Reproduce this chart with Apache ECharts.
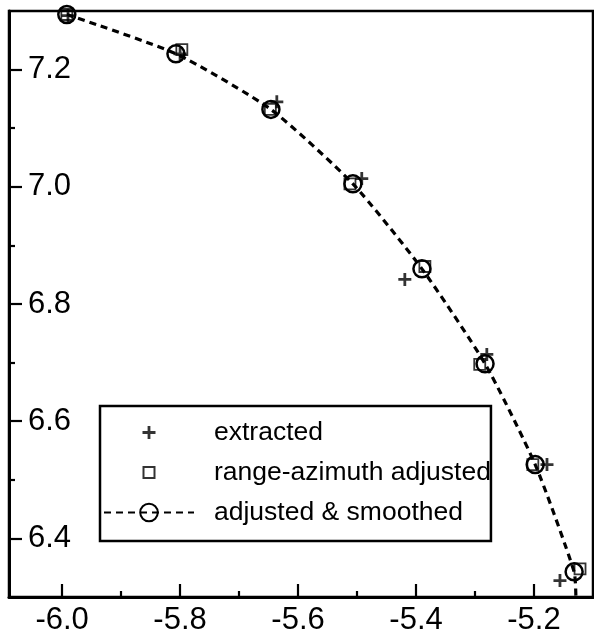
<!DOCTYPE html>
<html>
<head>
<meta charset="utf-8">
<script src="https://cdn.jsdelivr.net/npm/echarts@6/dist/echarts.min.js"></script>
<style>
  html, body { margin: 0; padding: 0; background: #fff; }
  #chart { width: 594px; height: 639px; }
</style>
</head>
<body>
<div id="chart"></div>
<script>
// track points [x, y]
const extractedPts = [
  [-5.990, 7.292], [-5.800, 7.227], [-5.636, 7.145], [-5.492, 7.014],
  [-5.419, 6.842], [-5.280, 6.714], [-5.178, 6.526], [-5.156, 6.328]
];
const adjustedPts = [
  [-5.992, 7.294], [-5.797, 7.234], [-5.647, 7.132], [-5.512, 7.005],
  [-5.385, 6.864], [-5.292, 6.697], [-5.202, 6.526], [-5.122, 6.348]
];
const smoothedPts = [
  [-5.992, 7.294], [-5.807, 7.227], [-5.646, 7.132], [-5.507, 7.005],
  [-5.390, 6.860], [-5.283, 6.698], [-5.198, 6.526], [-5.132, 6.343]
];
// where the dashed curve runs into the bottom axis
const smoothedTail = [-5.129, 6.300];

const xLabelValues = [-6.0, -5.8, -5.6, -5.4, -5.2];
const xMinorValues = [-5.9, -5.7, -5.5, -5.3];
const yLabelValues = [6.4, 6.6, 6.8, 7.0, 7.2];
const yMinorValues = [6.5, 6.7, 6.9, 7.1];

const seriesNames = ['extracted', 'range-azimuth adjusted', 'adjusted & smoothed'];

const FONT = '"Liberation Sans", Arial, Helvetica, sans-serif';
const X_MIN = -6.09, X_MAX = -5.10;
const Y_MIN = 6.30, Y_MAX = 7.30;

// the leading moves pad the bounding box so the mark sits small inside it
const plusPath = 'path://M0,0M22,22M9.6,4.5H12.4V9.6H17.5V12.4H12.4V17.5H9.6V12.4H4.5V9.6H9.6Z';
const squarePath = 'path://M0,0M22,22M5.5,5.5H16.5V16.5H5.5Z';

const chart = echarts.init(document.getElementById('chart'));

const fmt = (v) => Number(v).toFixed(1);

chart.setOption({
  animation: false,
  backgroundColor: '#fff',
  grid: {
    left: 9, right: 1, top: 11, bottom: 42,
    show: true, borderColor: '#000', borderWidth: 2.5
  },
  legend: {
    orient: 'vertical',
    left: 100,
    top: 406,
    padding: [13, 0, 15, 3],
    itemWidth: 90,
    itemHeight: 22,
    itemGap: 13,
    borderColor: '#000',
    borderWidth: 2.5,
    backgroundColor: '#fff',
    selectedMode: false,
    textStyle: {
      fontFamily: FONT, fontSize: 26.5, color: '#000',
      padding: [0, 0, 0, 15]
    },
    data: seriesNames
  },
  xAxis: [
    {
      type: 'value', min: X_MIN, max: X_MAX, position: 'bottom',
      axisLine: { show: true, lineStyle: { color: '#000', width: 3 } },
      axisTick: { inside: true, length: 13, customValues: xLabelValues, lineStyle: { color: '#000', width: 2.2 } },
      axisLabel: { customValues: xLabelValues, formatter: fmt, margin: 8, color: '#000', fontSize: 31, fontFamily: FONT },
      splitLine: { show: false }
    },
    {
      type: 'value', min: X_MIN, max: X_MAX, position: 'bottom',
      axisLine: { show: false },
      axisTick: { inside: true, length: 6, customValues: xMinorValues, lineStyle: { color: '#000', width: 2.2 } },
      axisLabel: { show: false },
      splitLine: { show: false }
    }
  ],
  yAxis: [
    {
      type: 'value', min: Y_MIN, max: Y_MAX, position: 'left',
      axisLine: { show: true, lineStyle: { color: '#000', width: 3 } },
      axisTick: { inside: true, length: 13, customValues: yLabelValues, lineStyle: { color: '#000', width: 2.2 } },
      axisLabel: { inside: true, customValues: yLabelValues, formatter: fmt, margin: 19, color: '#000', fontSize: 31, fontFamily: FONT },
      splitLine: { show: false }
    },
    {
      type: 'value', min: Y_MIN, max: Y_MAX, position: 'left',
      axisLine: { show: false },
      axisTick: { inside: true, length: 6, customValues: yMinorValues, lineStyle: { color: '#000', width: 2.2 } },
      axisLabel: { show: false },
      splitLine: { show: false }
    }
  ],
  series: [
    {
      name: seriesNames[0],
      type: 'scatter',
      data: extractedPts,
      symbol: plusPath,
      symbolSize: 22,
      itemStyle: { color: '#000' },
      z: 3
    },
    {
      name: seriesNames[1],
      type: 'scatter',
      data: adjustedPts,
      symbol: squarePath,
      symbolSize: 22,
      itemStyle: { color: 'rgba(0,0,0,0)', borderColor: '#000', borderWidth: 1.8 },
      z: 3
    },
    {
      name: seriesNames[2],
      type: 'line',
      data: smoothedPts.concat([{ value: smoothedTail, symbol: 'none' }]),
      symbol: 'circle',
      symbolSize: 17,
      showAllSymbol: true,
      smooth: 0.2,
      itemStyle: { color: 'rgba(255,255,255,0)', borderColor: '#000', borderWidth: 2.5 },
      lineStyle: { color: '#000', width: 3.2, type: [7, 5] },
      z: 2
    }
  ]
});
</script>
</body>
</html>
